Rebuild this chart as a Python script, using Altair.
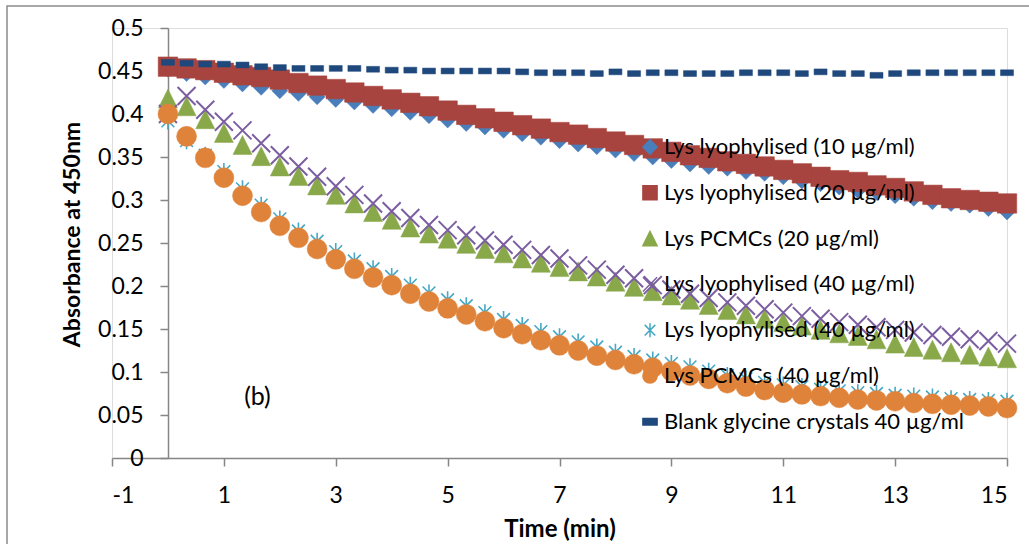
import altair as alt
import pandas as pd

TIME = [0.0, 0.333, 0.667, 1.0, 1.333, 1.667, 2.0, 2.333, 2.667, 3.0, 3.333, 3.667,
        4.0, 4.333, 4.667, 5.0, 5.333, 5.667, 6.0, 6.333, 6.667, 7.0, 7.333, 7.667,
        8.0, 8.333, 8.667, 9.0, 9.333, 9.667, 10.0, 10.333, 10.667, 11.0, 11.333, 11.667,
        12.0, 12.333, 12.667, 13.0, 13.333, 13.667, 14.0, 14.333, 14.667, 15.0]

LYO_10 = [0.452, 0.447, 0.443, 0.439, 0.435, 0.431, 0.427, 0.424, 0.420, 0.417, 0.414, 0.410,
          0.406, 0.402, 0.398, 0.393, 0.389, 0.385, 0.381, 0.377, 0.373, 0.369, 0.365, 0.362,
          0.358, 0.354, 0.350, 0.346, 0.342, 0.339, 0.337, 0.333, 0.331, 0.327, 0.322, 0.319,
          0.315, 0.311, 0.309, 0.305, 0.302, 0.298, 0.296, 0.294, 0.290, 0.286]
LYO_20 = [0.455, 0.453, 0.451, 0.448, 0.445, 0.443, 0.440, 0.436, 0.433, 0.429, 0.425, 0.421,
          0.417, 0.413, 0.409, 0.404, 0.399, 0.395, 0.391, 0.387, 0.383, 0.379, 0.376, 0.372,
          0.368, 0.364, 0.360, 0.356, 0.352, 0.349, 0.345, 0.342, 0.339, 0.335, 0.331, 0.327,
          0.323, 0.321, 0.317, 0.314, 0.310, 0.306, 0.302, 0.300, 0.298, 0.296]
PCMC_20 = [0.418, 0.409, 0.394, 0.378, 0.364, 0.351, 0.339, 0.328, 0.317, 0.306, 0.296, 0.286,
           0.277, 0.268, 0.261, 0.255, 0.249, 0.243, 0.238, 0.232, 0.227, 0.222, 0.217, 0.211,
           0.205, 0.199, 0.194, 0.189, 0.184, 0.178, 0.172, 0.167, 0.162, 0.158, 0.154, 0.149,
           0.145, 0.142, 0.138, 0.133, 0.129, 0.126, 0.123, 0.120, 0.118, 0.116]
LYO_40A = [0.400, 0.421, 0.405, 0.391, 0.381, 0.366, 0.352, 0.339, 0.327, 0.316, 0.306, 0.296,
           0.287, 0.279, 0.271, 0.265, 0.259, 0.253, 0.248, 0.242, 0.236, 0.232, 0.224, 0.219,
           0.213, 0.209, 0.201, 0.196, 0.191, 0.186, 0.181, 0.177, 0.173, 0.169, 0.165, 0.162,
           0.158, 0.155, 0.152, 0.149, 0.146, 0.143, 0.141, 0.138, 0.136, 0.133]
LYO_40B = [0.392, 0.369, 0.352, 0.333, 0.313, 0.294, 0.278, 0.264, 0.252, 0.240, 0.229, 0.220,
           0.211, 0.201, 0.192, 0.184, 0.177, 0.169, 0.161, 0.154, 0.147, 0.141, 0.135, 0.129,
           0.123, 0.118, 0.114, 0.110, 0.106, 0.101, 0.096, 0.092, 0.088, 0.085, 0.083, 0.080,
           0.078, 0.076, 0.075, 0.073, 0.072, 0.071, 0.069, 0.068, 0.067, 0.066]
PCMC_40 = [0.400, 0.374, 0.349, 0.326, 0.305, 0.286, 0.270, 0.256, 0.243, 0.231, 0.220, 0.210,
           0.201, 0.191, 0.182, 0.174, 0.167, 0.159, 0.151, 0.144, 0.137, 0.131, 0.125, 0.119,
           0.114, 0.109, 0.105, 0.101, 0.096, 0.092, 0.087, 0.083, 0.079, 0.076, 0.074, 0.072,
           0.070, 0.068, 0.067, 0.066, 0.064, 0.063, 0.062, 0.061, 0.060, 0.058]
BLANK = [0.460, 0.459, 0.458, 0.458, 0.457, 0.455, 0.454, 0.453, 0.453, 0.453, 0.453, 0.452,
         0.451, 0.451, 0.450, 0.450, 0.450, 0.450, 0.450, 0.449, 0.448, 0.448, 0.448, 0.447,
         0.449, 0.447, 0.448, 0.448, 0.447, 0.447, 0.447, 0.448, 0.448, 0.448, 0.447, 0.449,
         0.447, 0.447, 0.445, 0.447, 0.448, 0.448, 0.448, 0.448, 0.448, 0.448]

KEYS = ["s1", "s2", "s3", "s4", "s5", "s6", "s7"]
LABELS = ["Lys lyophylised (10 µg/ml)", "Lys lyophylised (20 µg/ml)", "Lys PCMCs (20 µg/ml)",
          "Lys lyophylised (40 µg/ml)", "Lys lyophylised (40 µg/ml)", "Lys PCMCs (40 µg/ml)",
          "Blank glycine crystals 40 µg/ml"]
SERIES = [LYO_10, LYO_20, PCMC_20, LYO_40A, LYO_40B, PCMC_40, BLANK]

COLORS = ["#4A7EBB", "#A8443F", "#88A84A", "#7B5EA0", "#46A8C4", "#E0833A", "#1F497D"]
FILLS = ["#4A7EBB", "#A8443F", "#88A84A", "transparent", "transparent", "#E0833A", "#1F497D"]
SHAPES = ["diamond", "square", "M0,-1L1,1L-1,1Z", "M-1,-1L1,1M-1,1L1,-1",
          "M-0.75,-0.75L0.75,0.75M-0.75,0.75L0.75,-0.75M0,-1L0,1", "circle",
          "M-1,-0.45L1,-0.45L1,0.45L-1,0.45Z"]
SIZES = [256, 380, 361, 324, 289, 400, 169]
STROKES = [0.5, 0.5, 0.5, 2, 1.6, 0.5, 0.5]

rows = []
for key, vals in zip(KEYS, SERIES):
    for t, v in zip(TIME, vals):
        rows.append({"time": t, "value": v, "series": key})
df = pd.DataFrame(rows)

label_expr = " : ".join(
    [f"datum.label == '{k}' ? '{l}'" for k, l in zip(KEYS, LABELS)]) + " : ''"

leg = alt.Legend(title=None, labelExpr=label_expr, orient="none", legendX=527, legendY=108)

x_enc = alt.X("time:Q", scale=alt.Scale(domain=[-1, 15], nice=False, zero=False),
              axis=alt.Axis(values=[-1, 1, 3, 5, 7, 9, 11, 13, 15], title="Time (min)",
                            labelExpr="datum.value < 0 ? '-' + format(-datum.value, 'd') : format(datum.value, 'd')",
                            grid=False, tickSize=8, labelPadding=18, labelFontSize=23,
                            titleFontSize=24, titleFontWeight="bold", titlePadding=10,
                            domainColor="#868686", tickColor="#868686", domainWidth=1.5,
                            tickWidth=1.5, labelColor="#000000", titleColor="#000000",
                            labelFont="Lato", titleFont="Lato"))
y_enc = alt.Y("value:Q", scale=alt.Scale(domain=[0, 0.5], nice=False),
              axis=alt.Axis(values=[0, 0.05, 0.1, 0.15, 0.2, 0.25, 0.3, 0.35, 0.4, 0.45, 0.5],
                            labelExpr="format(datum.value, '.2~f')", title="Absorbance at 450nm",
                            grid=False, offset=-56, tickSize=8, labelPadding=17,
                            labelFontSize=23, titleFontSize=23, titleFontWeight="bold",
                            titleAngle=270, titleX=-96, titleY=206, titleAlign="center",
                            titleBaseline="middle",
                            domainColor="#868686", tickColor="#868686", domainWidth=1.5,
                            tickWidth=1.5, labelColor="#000000", titleColor="#000000",
                            labelFont="Lato", titleFont="Lato"))

layers = []
for key, size, sw in zip(KEYS, SIZES, STROKES):
    layers.append(
        alt.Chart(df).transform_filter(alt.datum.series == key)
        .mark_point(opacity=1, size=size, strokeWidth=sw)
        .encode(
            x=x_enc,
            y=y_enc,
            shape=alt.Shape("series:N", scale=alt.Scale(domain=KEYS, range=SHAPES), legend=leg),
            fill=alt.Fill("series:N", scale=alt.Scale(domain=KEYS, range=FILLS), legend=leg),
            stroke=alt.Stroke("series:N", scale=alt.Scale(domain=KEYS, range=COLORS), legend=leg),
        )
    )

ANN_X = [1.6]
ANN_Y = [0.071]
ANN_T = ["(b)"]
ann = alt.Chart(pd.DataFrame({"x": ANN_X, "y": ANN_Y, "t": ANN_T})).mark_text(
    font="Lato", fontSize=25, color="#000000", align="center", baseline="middle"
).encode(x="x:Q", y="y:Q", text="t:N")

border = alt.Chart(pd.DataFrame({"a": [0]})).mark_rect(
    fill="transparent", stroke="#8c8c8c", strokeWidth=1.5
).encode(x=alt.value(-105), x2=alt.value(940), y=alt.value(-22), y2=alt.value(540))

chart = alt.layer(border, *layers, ann).properties(
    width=895, height=430,
    autosize=alt.AutoSizeParams(type="none"),
    padding={"left": 112, "top": 28, "right": 22, "bottom": 86},
    background="white",
).configure_view(stroke=None).configure(font="Lato").configure_legend(
    padding=0, rowPadding=23.8,
    labelFontSize=22, labelFont="Lato", labelColor="#000000", symbolSize=200,
    labelOffset=3, symbolStrokeWidth=1.5, labelLimit=400
)

chart.save("out.html", embed_options={"renderer": "svg", "actions": False})
